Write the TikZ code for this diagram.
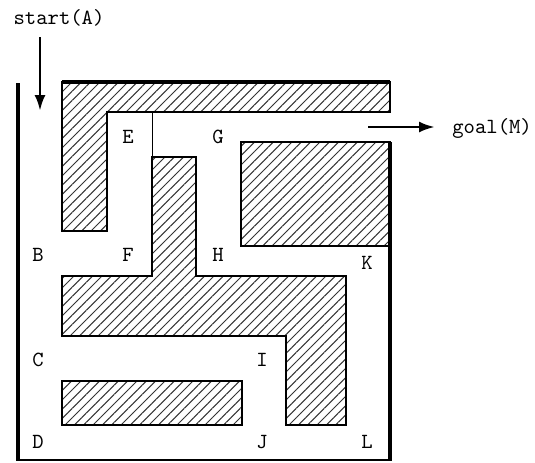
\documentclass[tikz,border=0pt]{standalone}
\usetikzlibrary{patterns.meta,arrows.meta}
\tikzset{
  wall/.style={line width=2pt},
  block/.style={draw, line width=0.75pt,
    pattern={Lines[angle=45, distance=3.3pt, line width=0.5pt]}, pattern color=black!80},
  lbl/.style={font=\ttfamily\fontsize{10.8}{12}\selectfont, inner sep=0pt},
  way/.style={-{Latex[length=8pt,width=5.5pt]}, line width=1.4pt}
}
\begin{document}
\begin{tikzpicture}[x=0.5pt,y=-0.5pt]
  \useasboundingbox (0,0) rectangle (535,462);
  % hatched blocks
  \path[block] (62,82) -- (390,82) -- (390,112) -- (107,112) -- (107,231) -- (62,231) -- cycle;
  \path[block] (152,157) -- (196,157) -- (196,276) -- (346,276) -- (346,425) -- (286,425)
    -- (286,336) -- (62,336) -- (62,276) -- (152,276) -- cycle;
  \path[block] (241,142) rectangle (390,246);
  \path[block] (62,381) rectangle (242,425);
  % outer walls
  \draw[line width=1pt] (18,460) -- (390,460);
  \draw[wall] (62,82) -- (390,82);
  \draw[wall] (18,83) -- (18,461);
  \draw[wall] (390,142) -- (390,461);
  \draw[line width=0.5pt] (152,112) -- (152,157);
  % places
  \node[lbl] (E) at (128,137) {E};
  \node[lbl] (G) at (218,137) {G};
  \node[lbl] (B) at (38,255) {B};
  \node[lbl] (F) at (128,255) {F};
  \node[lbl] (H) at (218,255) {H};
  \node[lbl] (K) at (367,263) {K};
  \node[lbl] (C) at (38,360) {C};
  \node[lbl] (I) at (262,360) {I};
  \node[lbl] (D) at (38,442) {D};
  \node[lbl] (J) at (262,442) {J};
  \node[lbl] (L) at (367,442) {L};
  % start and goal
  \node[lbl] (start) at (59,18) {start(A)};
  \coordinate (in) at (40,37);
  \coordinate (entry) at (40,111);
  \draw[way] (in) -- (entry);
  \node[lbl, anchor=west] (goal) at (452,128) {goal(M)};
  \coordinate (out) at (368,127);
  \draw[way, shorten >=8.5pt] (out) -- (goal.west |- out);
\end{tikzpicture}
\end{document}
